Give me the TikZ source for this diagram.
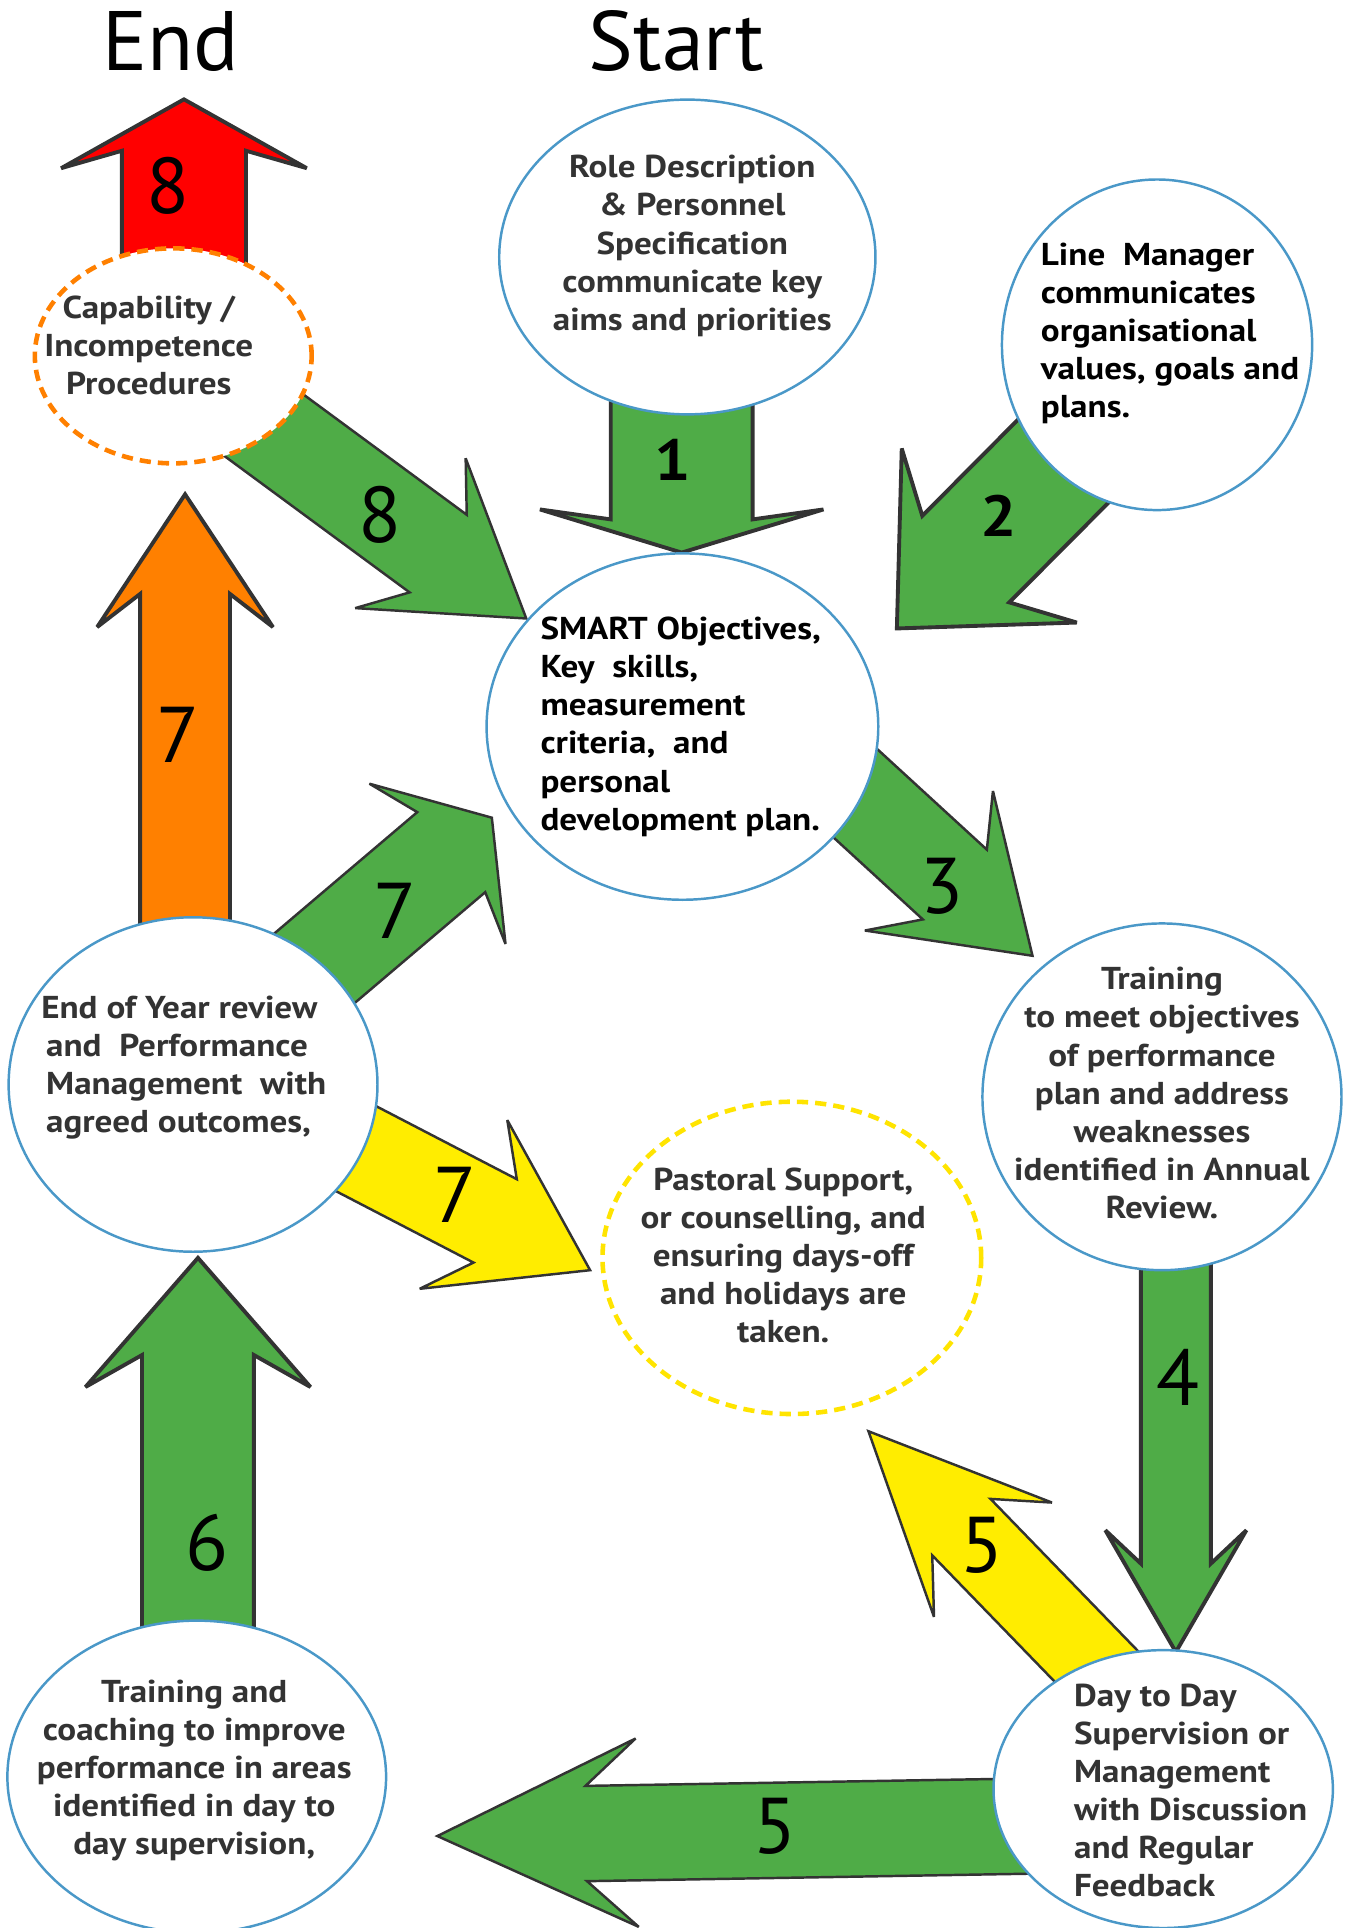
\documentclass[tikz,border=0pt]{standalone}
\usepackage{fontspec}
\setmainfont{PT Sans}[BoldFeatures={FakeStretch=1.11}]
\usetikzlibrary{shapes.geometric,calc}

\definecolor{arrowgreen}{RGB}{79,172,71}
\definecolor{arrowyellow}{RGB}{255,237,0}
\definecolor{arroworange}{RGB}{255,128,0}
\definecolor{arrowred}{RGB}{255,0,0}
\definecolor{outline}{RGB}{51,51,51}
\definecolor{bubbleblue}{RGB}{74,152,200}
\definecolor{dashorange}{RGB}{255,128,0}
\definecolor{dashyellow}{RGB}{255,228,0}
\definecolor{textgray}{RGB}{51,51,51}

% block arrow: style, tail, tip, shaft half width, inner corner, barb half width, head length
\newcommand{\fatarrow}[7]{%
  \draw[#1] ($(#2)!#4*0.35pt!-90:(#3)$)
    -- ($(#3)!#5*0.35pt!(#2)!#4*0.35pt!90:(#2)$)
    -- ($(#3)!#7*0.35pt!(#2)!#6*0.35pt!90:(#2)$)
    -- (#3)
    -- ($(#3)!#7*0.35pt!(#2)!#6*0.35pt!-90:(#2)$)
    -- ($(#3)!#5*0.35pt!(#2)!#4*0.35pt!-90:(#2)$)
    -- ($(#2)!#4*0.35pt!90:(#3)$) -- cycle;}

\begin{document}
\begin{tikzpicture}[x=0.35pt, y=-0.35pt]
    % Define block styles
    \tikzstyle{bubble} = [ellipse, draw=bubbleblue, line width=0.7pt, fill=white, inner sep=0pt]
    \tikzstyle{dashbubble} = [ellipse, fill=white, line width=1.3pt, dash pattern=on 3.2pt off 2pt, inner sep=0pt]
    \tikzstyle{txt} = [text=textgray, font=\bfseries\fontsize{9}{10.85}\selectfont, align=center, inner sep=0pt]
    \tikzstyle{num} = [font=\fontsize{22.5}{22.5}\selectfont, anchor=base, inner sep=0pt]
    \tikzstyle{bignum} = [font=\bfseries\fontsize{16.5}{16.5}\selectfont, anchor=base, inner sep=0pt]
    \tikzstyle{heading} = [font=\fontsize{24}{24}\selectfont, anchor=base, inner sep=0pt]
    \tikzstyle{thin} = [draw=outline, line width=0.7pt, miter limit=4]
    \tikzstyle{thick} = [draw=outline, line width=1.1pt, miter limit=4]

    \useasboundingbox (0,0) rectangle (1094,1568);

    % Arrow ends
    \coordinate (tail1) at (554.4,300);   \coordinate (tip1) at (554.4,449.4);
    \coordinate (tail2) at (940.9,298.4); \coordinate (tip2) at (729.4,511.1);
    \coordinate (tail3) at (655.5,608.3); \coordinate (tip3) at (839.7,777.3);
    \coordinate (tail4) at (956.3,1000);  \coordinate (tip4) at (956.3,1343.5);
    \coordinate (tail5a) at (908.1,1372.2); \coordinate (tip5a) at (706.3,1164);
    \coordinate (tail5b) at (960,1483);   \coordinate (tip5b) at (355.7,1493.2);
    \coordinate (tail6) at (161,1400);    \coordinate (tip6) at (161,1023);
    \coordinate (tail7a) at (150.5,800);  \coordinate (tip7a) at (150.5,402);
    \coordinate (tail7b) at (201.9,833.2); \coordinate (tip7b) at (400,665);
    \coordinate (tail7c) at (249,913.1);  \coordinate (tip7c) at (479.9,1033);
    \coordinate (tail8a) at (149.6,260);  \coordinate (tip8a) at (149.6,80.8);
    \coordinate (tail8b) at (186.5,325.1); \coordinate (tip8b) at (428,503);

    % Arrows
    \fatarrow{thick, fill=arrowred}{tail8a}{tip8a}{50.45}{41.8}{99.9}{56}
    \fatarrow{thin, fill=arrowgreen}{tail8b}{tip8b}{39.2}{89}{75.7}{117}
    \fatarrow{thick, fill=arrowgreen}{tail1}{tip1}{57.7}{27}{115.3}{35.1}
    \fatarrow{thick, fill=arrowgreen}{tail2}{tip2}{49.9}{79.5}{100.4}{106.6}
    \fatarrow{thin, fill=arrowgreen}{tail3}{tip3}{38.5}{85.7}{77}{114.3}
    \fatarrow{thin, fill=arrowyellow}{tail5a}{tip5a}{33}{108.6}{66.8}{145.5}
    \fatarrow{thick, fill=arrowgreen}{tail4}{tip4}{28.5}{71.9}{57.35}{99}
    \fatarrow{thin, fill=arrowgreen}{tail5b}{tip5b}{38.75}{121.1}{76.6}{162.5}
    \fatarrow{thick, fill=arrowgreen}{tail6}{tip6}{45.5}{79}{91.5}{105}
    \fatarrow{thick, fill=arroworange}{tail7a}{tip7a}{36.5}{81}{71.5}{108}
    \fatarrow{thin, fill=arrowgreen}{tail7b}{tip7b}{42.7}{43.3}{85.5}{58}
    \fatarrow{thin, fill=arrowyellow}{tail7c}{tip7c}{38.2}{87}{77.3}{116}

    % Place nodes
    \node [bubble, minimum width=107.1pt, minimum height=89.6pt] (role) at (559,209) {};
    \node [bubble, minimum width=88.3pt, minimum height=94.1pt] (lineman) at (941,280.4) {};
    \node [bubble, minimum width=111.5pt, minimum height=98.6pt] (smart) at (555,590.9) {};
    \node [dashbubble, draw=dashorange, minimum width=78.8pt, minimum height=61.2pt] (capab) at (140.9,289.4) {};
    \node [bubble, minimum width=105pt, minimum height=95.2pt] (endyear) at (157,882) {};
    \node [bubble, minimum width=102.2pt, minimum height=98.7pt] (trainright) at (945,892) {};
    \node [dashbubble, draw=dashyellow, minimum width=107.8pt, minimum height=88.9pt] (pastoral) at (644,1023) {};
    \node [bubble, minimum width=96.6pt, minimum height=79.1pt] (daytoday) at (946,1455) {};
    \node [bubble, minimum width=107.8pt, minimum height=88.9pt] (coaching) at (160,1445) {};

    \node [txt] (roletxt) at (563,200) {Role Description\\\& Personnel\\Specification\\communicate key\\aims and priorities};
    \node [txt, text=black, align=left, anchor=west] (linemantxt) at (846,271) {Line\ \ Manager\\communicates\\organisational\\values, goals and\\plans.};
    \node [txt, text=black, align=left, anchor=west] (smarttxt) at (439,591) {SMART Objectives,\\Key\ \ skills,\\measurement\\criteria,\ \ and\\personal\\development plan.};
    \node [txt] (capabtxt) at (121,281) {Capability /\\Incompetence\\Procedures};
    \node [txt, align=left, anchor=west] (endyeartxt) at (33,868) {End of Year review\\\hspace*{1.4pt}and\ \ Performance\\\hspace*{1.4pt}Management\ \ with\\\hspace*{1.4pt}agreed outcomes,};
    \node [txt] (trainrighttxt) at (945,889) {Training\\to meet objectives\\of performance\\plan and address\\weaknesses\\identified in Annual\\Review.};
    \node [txt] (pastoraltxt) at (637,1021) {Pastoral Support,\\or counselling, and\\ensuring days-off\\and holidays are\\taken.};
    \node [txt, align=left, anchor=west] (daytodaytxt) at (873,1456) {Day to Day\\Supervision or\\Management\\with Discussion\\and Regular\\Feedback};
    \node [txt] (coachingtxt) at (158,1440) {Training and\\coaching to improve\\performance in areas\\identified in day to\\day supervision,};

    % Step numbers
    \node [num] (step8end) at (136.7,173.5) {8};
    \node [bignum] (step1) at (547,390.4) {1};
    \node [bignum] (step2) at (812.4,436.5) {2};
    \node [num] (step8) at (309,441) {8};
    \node [num] (step3) at (766,743) {3};
    \node [num] (step7up) at (145,620) {7};
    \node [num] (step7smart) at (321,763) {7};
    \node [num] (step4) at (958,1143) {4};
    \node [num] (step7past) at (370,994) {7};
    \node [num] (step5past) at (798.5,1278.5) {5};
    \node [num] (step6) at (168,1277) {6};
    \node [num] (step5) at (630,1507) {5};

    \node [heading] (endtitle) at (139,57.5) {End};
    \node [heading] (starttitle) at (550,57.5) {Start};
\end{tikzpicture}
\end{document}
